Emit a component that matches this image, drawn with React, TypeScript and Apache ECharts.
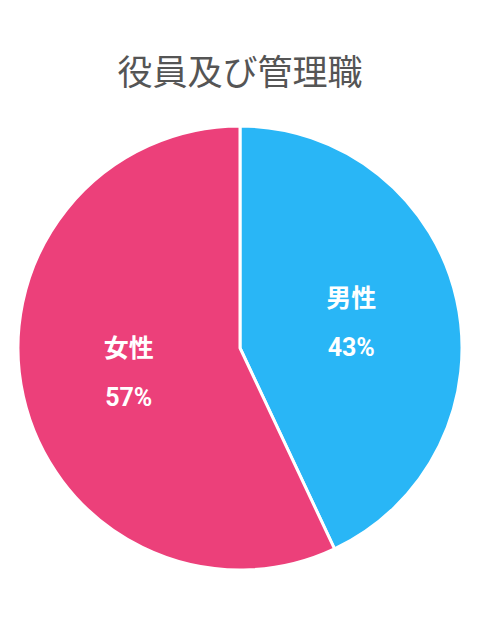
import React, { useEffect, useRef } from "react";
import * as echarts from "echarts";

const titleText = "役員及び管理職";
const categories = ["男性", "女性"];
const values = [43, 57];
const colors = ["#29b6f6", "#ec407a"];

export default function App() {
  const ref = useRef<HTMLDivElement>(null);
  useEffect(() => {
    if (!ref.current) return;
    const chart = echarts.init(ref.current, undefined, { renderer: "svg" });
    chart.setOption({
      animation: false,
      backgroundColor: "#ffffff",
      title: {
        text: titleText,
        left: "center",
        top: 47,
        textStyle: {
          fontFamily: "Noto Sans CJK JP",
          fontSize: 35,
          fontWeight: "normal",
          color: "#555555",
        },
      },
      series: [
        {
          type: "pie",
          center: [240, 348],
          radius: 222,
          startAngle: 90,
          clockwise: true,
          data: categories.map((c, i) => ({
            name: c,
            value: values[i],
            itemStyle: { color: colors[i] },
          })),
          itemStyle: { borderColor: "#ffffff", borderWidth: 3 },
          label: {
            show: true,
            position: "inside",
            formatter: "{a|{b}}\n{a|{d}%}",
            rich: {
              a: {
                fontFamily: "Roboto, 'Noto Sans CJK JP'",
                fontSize: 25,
                fontWeight: "bold",
                color: "#ffffff",
                lineHeight: 49,
              },
            },
          },
          labelLine: { show: false },
          emphasis: { disabled: true },
        },
      ],
    });
    return () => chart.dispose();
  }, []);
  return (
    <div
      ref={ref}
      style={{ position: "fixed", left: 0, top: 0, width: 480, height: 640 }}
    />
  );
}
